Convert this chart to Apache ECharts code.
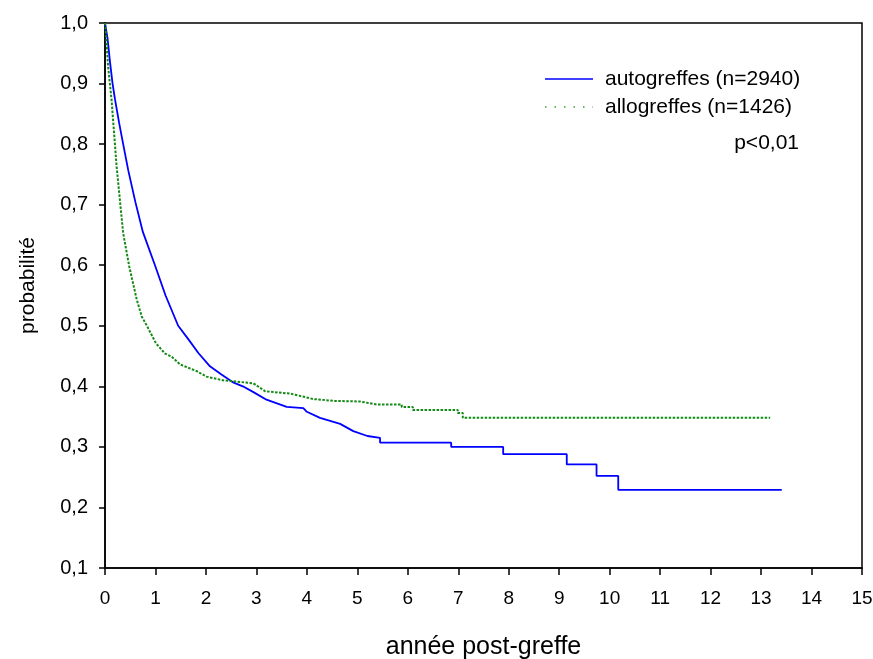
<!DOCTYPE html>
<html>
<head>
<meta charset="utf-8">
<script src="https://cdn.jsdelivr.net/npm/echarts@6/dist/echarts.min.js"></script>
<style>html,body{margin:0;padding:0;background:#fff}#c{width:873px;height:659px}</style>
</head>
<body>
<div id="c"></div>
<script>
var seriesNames = ['autogreffes (n=2940)', 'allogreffes (n=1426)'];
var xTicks = [0,1,2,3,4,5,6,7,8,9,10,11,12,13,14,15];
var yTicks = [0.1,0.2,0.3,0.4,0.5,0.6,0.7,0.8,0.9,1.0];
var pValueText = 'p<0,01';

// autogreffes: [year, probability]
var autoT = [0,0.05,0.1,0.15,0.2,0.28,0.36,0.46,0.6,0.75,0.99,1.2,1.45,1.65,1.85,2.08,2.3,2.55,2.73,2.95,3.2,3.6,3.93,4.0,4.26,4.66,4.92,5.2,5.45,5.45,6.86,6.86,7.89,7.89,9.15,9.15,9.74,9.74,10.17,10.17,13.41];
var autoP = [1.0,0.975,0.935,0.9,0.873,0.835,0.8,0.757,0.705,0.655,0.6,0.55,0.5,0.478,0.455,0.433,0.42,0.406,0.4,0.39,0.378,0.366,0.364,0.358,0.348,0.338,0.326,0.318,0.315,0.307,0.307,0.300,0.300,0.288,0.288,0.271,0.271,0.252,0.252,0.229,0.229];

// allogreffes: [year, probability]
var alloT = [0,0.02,0.06,0.13,0.23,0.36,0.48,0.63,0.73,0.83,1.01,1.19,1.32,1.49,1.82,2.01,2.34,2.94,3.17,3.67,4.13,4.52,5.05,5.38,5.88,5.88,6.1,6.1,6.99,6.99,7.09,7.09,13.18];
var alloP = [1.0,0.983,0.93,0.873,0.763,0.653,0.598,0.543,0.515,0.5,0.471,0.454,0.449,0.436,0.425,0.416,0.410,0.405,0.392,0.388,0.379,0.376,0.375,0.370,0.370,0.366,0.366,0.361,0.361,0.356,0.356,0.348,0.348];

function zip(a,b){return a.map(function(v,i){return [v,b[i]];});}

var FONT = '"Liberation Sans", Arial, sans-serif';
var BLUE = '#0000ff', GREEN = '#138a13';
var chart = echarts.init(document.getElementById('c'), null, {renderer:'canvas'});
chart.setOption({
  animation:false,
  backgroundColor:'#fff',
  textStyle:{fontFamily:FONT,color:'#000'},
  grid:{left:105,right:11,top:23,bottom:91,outerBoundsMode:'none',containLabel:false,
        show:true,borderColor:'#000',borderWidth:1.5,backgroundColor:'transparent'},
  xAxis:{
    type:'value', min:0, max:15, interval:1,
    name:'année post-greffe', nameLocation:'middle', nameGap:67,
    nameTextStyle:{fontFamily:FONT,fontSize:25,color:'#000'},
    axisLine:{show:true,onZero:false,lineStyle:{color:'#000',width:1.5}},
    axisTick:{show:true,inside:false,length:7,lineStyle:{color:'#000',width:1.5}},
    axisLabel:{margin:21,fontFamily:FONT,fontSize:19,color:'#000',
      formatter:function(v){return xTicks.indexOf(v)>=0?String(v):'';}},
    splitLine:{show:false}
  },
  yAxis:{
    type:'value', min:0.1, max:1.0, interval:0.1,
    name:'probabilité', nameLocation:'middle', nameGap:66, nameRotate:90,
    nameTextStyle:{fontFamily:FONT,fontSize:21,color:'#000',padding:[0,0,0,20]},
    axisLine:{show:true,onZero:false,lineStyle:{color:'#000',width:1.5}},
    axisTick:{show:true,inside:false,length:6,lineStyle:{color:'#000',width:1.5}},
    axisLabel:{margin:17,fontFamily:FONT,fontSize:20,color:'#000',
      formatter:function(v){return v.toFixed(1).replace('.',',');}},
    splitLine:{show:false}
  },
  graphic:[
    {type:'line', shape:{x1:545,y1:79,x2:593,y2:79}, style:{stroke:BLUE,lineWidth:1.5}},
    {type:'text', x:605, y:79, style:{text:seriesNames[0], font:'21px '+FONT, fill:'#000', textVerticalAlign:'middle', verticalAlign:'middle'}},
    {type:'line', shape:{x1:545,y1:107,x2:593,y2:107}, style:{stroke:'#3a9a3a',lineWidth:1.5,lineDash:[1.5,8]}},
    {type:'text', x:605, y:107, style:{text:seriesNames[1], font:'21px '+FONT, fill:'#000', textVerticalAlign:'middle', verticalAlign:'middle'}},
    {type:'text', x:799, y:143, style:{text:pValueText, font:'21px '+FONT, fill:'#000', align:'right', textAlign:'right', verticalAlign:'middle', textVerticalAlign:'middle'}}
  ],
  series:[
    {name:seriesNames[0], type:'line', data:zip(autoT,autoP), symbol:'none',
     lineStyle:{color:BLUE,width:1.8}, itemStyle:{color:BLUE}},
    {name:seriesNames[1], type:'line', data:zip(alloT,alloP), symbol:'none',
     lineStyle:{color:GREEN,width:2,type:[2.5,1.5]}, itemStyle:{color:GREEN}}
  ]
});
</script>
</body>
</html>
